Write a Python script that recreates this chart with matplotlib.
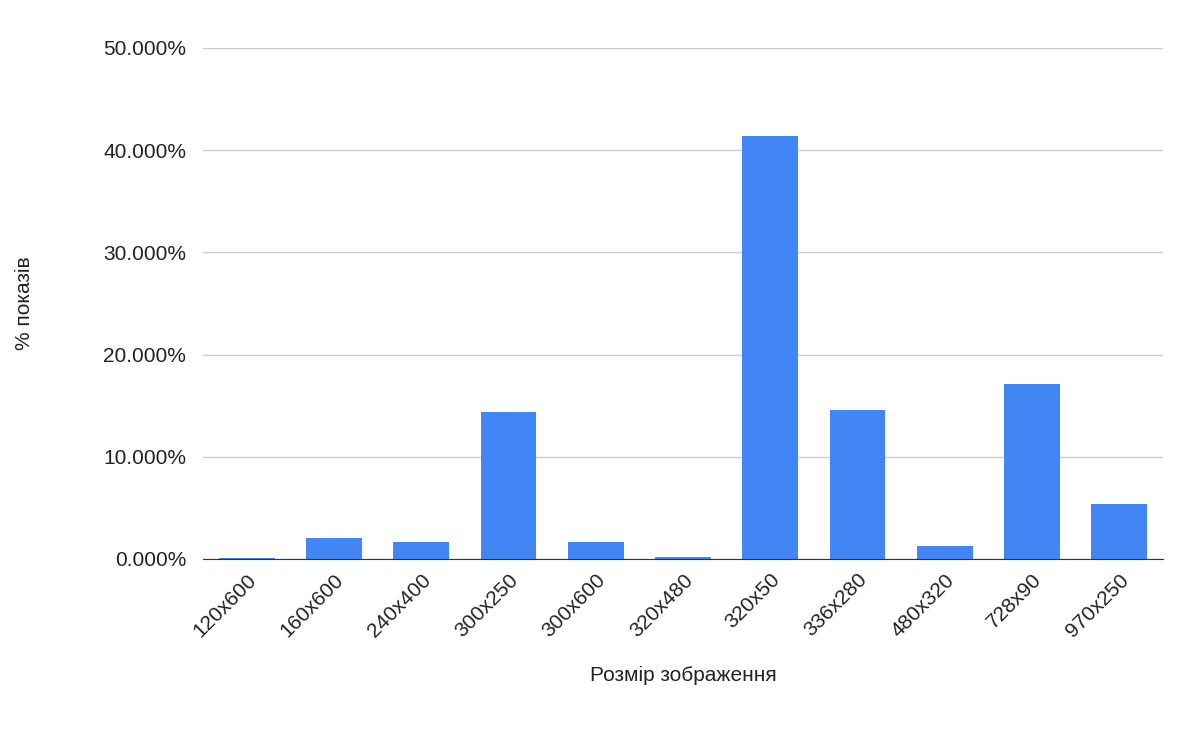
import matplotlib.pyplot as plt
from matplotlib.ticker import FuncFormatter

plt.rcParams['font.family'] = ['Liberation Sans', 'DejaVu Sans']

sizes = ["120x600", "160x600", "240x400", "300x250", "300x600", "320x480",
         "320x50", "336x280", "480x320", "728x90", "970x250"]
shares = [0.05, 2.05, 1.66, 14.4, 1.66, 0.15, 41.4, 14.6, 1.27, 17.1, 5.4]

fig = plt.figure(figsize=(12, 7.42), dpi=100)
ax = fig.add_axes([203/1200, 1 - 559/742, 960/1200, 511/742])

ax.bar(range(len(sizes)), shares, width=0.64, color="#4285f4", zorder=3)
ax.set_xlim(-0.5, len(sizes) - 0.5)
ax.set_ylim(0, 50)
ax.set_yticks([0, 10, 20, 30, 40, 50])
ax.yaxis.set_major_formatter(FuncFormatter(lambda v, p: f"{v:.3f}%"))
ax.set_xticks(range(len(sizes)))
ax.set_xticklabels(sizes, rotation=45, ha="right", rotation_mode="anchor")
ax.tick_params(length=0, labelsize=15, colors="#222222")
ax.tick_params(axis="y", pad=12)
ax.tick_params(axis="x", pad=8)
ax.grid(axis="y", color="#cccccc", lw=1, zorder=0)
for s in ["top", "right", "left"]:
    ax.spines[s].set_visible(False)
ax.spines["bottom"].set_color("#333333")
ax.spines["bottom"].set_zorder(4)

ax.set_xlabel("Розмір зображення", fontsize=15, labelpad=18, color="#222222")
ax.set_ylabel("% показів", fontsize=15, labelpad=50, color="#222222")

fig.savefig("out.png")
